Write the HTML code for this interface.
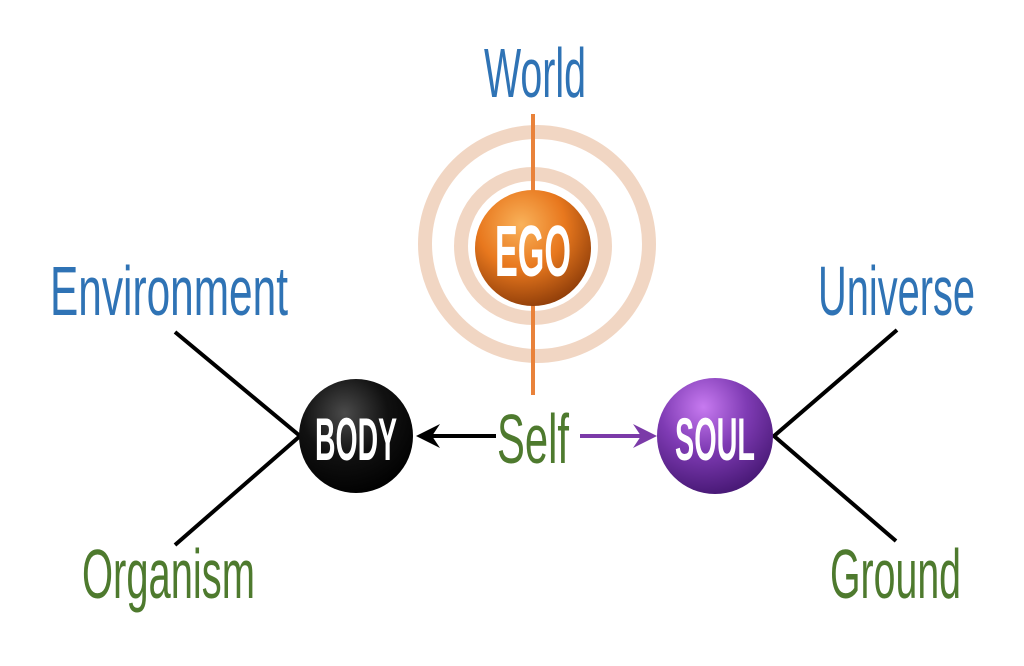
<!DOCTYPE html>
<html><head><meta charset="utf-8"><style>html,body{margin:0;padding:0;background:#fff}svg{display:block}</style></head>
<body>
<svg width="1024" height="666" viewBox="0 0 1024 666" xmlns="http://www.w3.org/2000/svg">
<defs>
<radialGradient id="go" cx="0.4" cy="0.3" r="0.75"><stop offset="0" stop-color="#f9b25a"/><stop offset="0.5" stop-color="#e8781e"/><stop offset="1" stop-color="#8a3a08"/></radialGradient>
<radialGradient id="gb" cx="0.4" cy="0.3" r="0.75"><stop offset="0" stop-color="#4a4a4a"/><stop offset="0.5" stop-color="#111"/><stop offset="1" stop-color="#000"/></radialGradient>
<radialGradient id="gs" cx="0.4" cy="0.25" r="0.75"><stop offset="0" stop-color="#c77af0"/><stop offset="0.5" stop-color="#7f3bb4"/><stop offset="1" stop-color="#4a1a78"/></radialGradient>
</defs>
<g fill="none" stroke="#f0d2bd" stroke-width="14" opacity="0.9">
<circle cx="537" cy="244" r="112"/>
<circle cx="533" cy="246" r="72"/>
</g>
<line x1="533" y1="114" x2="533" y2="395" stroke="#e9823a" stroke-width="4"/>
<g stroke="#000" stroke-width="4" fill="none">
<polyline points="175,332 300,436 175,545"/>
<polyline points="897,330 774,436 896,541"/>
<line x1="496" y1="436" x2="420" y2="436"/>
</g>
<polygon points="416,436 440,424 432,436 440,448" fill="#000"/>
<line x1="580" y1="436" x2="645" y2="436" stroke="#7b3aa8" stroke-width="4"/>
<polygon points="657,436 633,424 641,436 633,448" fill="#7b3aa8"/>
<circle cx="533" cy="248" r="58" fill="url(#go)"/>
<circle cx="356" cy="436" r="57" fill="url(#gb)"/>
<circle cx="715" cy="436" r="58" fill="url(#gs)"/>
<g font-family="Liberation Sans Narrow, Liberation Sans, sans-serif" fill="#fff" text-anchor="middle" font-weight="bold">
<text x="533" y="276" font-size="72" textLength="76" lengthAdjust="spacingAndGlyphs">EGO</text>
<text x="356" y="460" font-size="60" textLength="82" lengthAdjust="spacingAndGlyphs">BODY</text>
<text x="715" y="460" font-size="60" textLength="80" lengthAdjust="spacingAndGlyphs">SOUL</text>
</g>
<g font-family="Liberation Sans Narrow, Liberation Sans, sans-serif" font-size="70">
<text x="484" y="97" fill="#2f73b5" textLength="102" lengthAdjust="spacingAndGlyphs">World</text>
<text x="50" y="315" fill="#2f73b5" textLength="238" lengthAdjust="spacingAndGlyphs">Environment</text>
<text x="818" y="315" fill="#2f73b5" textLength="157" lengthAdjust="spacingAndGlyphs">Universe</text>
<text x="82" y="598" fill="#4e7a2e" textLength="173" lengthAdjust="spacingAndGlyphs">Organism</text>
<text x="830" y="598" fill="#4e7a2e" textLength="131" lengthAdjust="spacingAndGlyphs">Ground</text>
<text x="497" y="463" fill="#4e7a2e" textLength="72" lengthAdjust="spacingAndGlyphs">Self</text>
</g>
</svg>
</body></html>
